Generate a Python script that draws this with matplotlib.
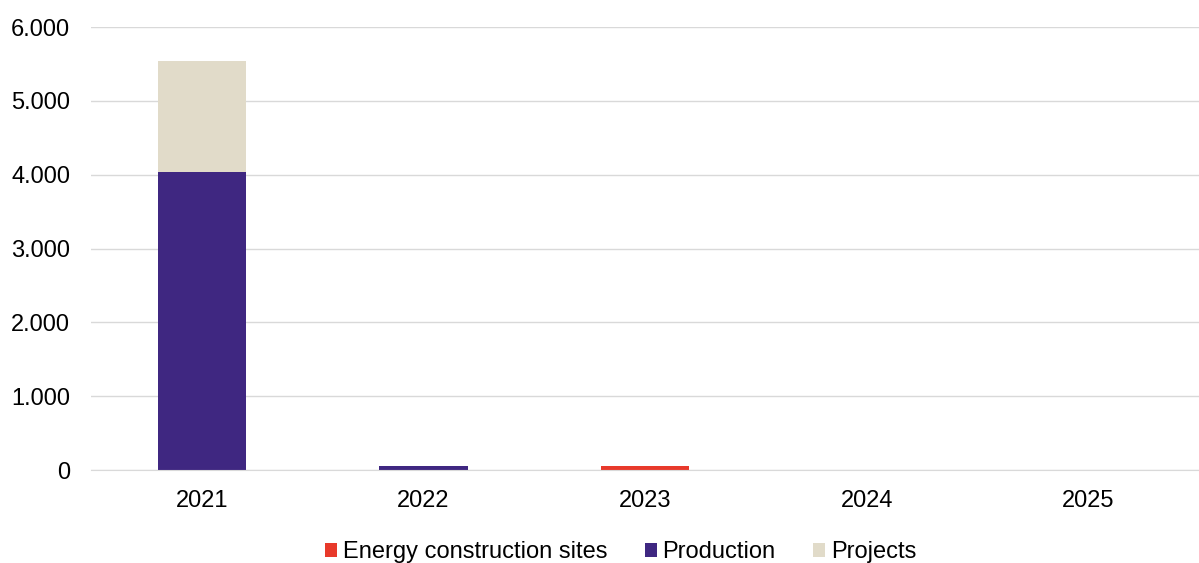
import numpy as np
import matplotlib.pyplot as plt
from matplotlib.ticker import FuncFormatter

years = ['2021', '2022', '2023', '2024', '2025']
energy_sites = [5, 0, 50, 0, 0]
production = [4030, 50, 0, 0, 0]
projects = [1505, 0, 0, 0, 0]

plt.rcParams['font.family'] = ['Liberation Sans', 'DejaVu Sans']

fig = plt.figure(figsize=(11.99, 5.63), dpi=100)
ax = fig.add_axes([0.076, 0.165, 0.924, 0.787])

x = np.arange(len(years))
w = 0.4
ax.bar(x, energy_sites, w, color='#e8392b', label='Energy construction sites')
ax.bar(x, production, w, bottom=energy_sites, color='#3f2781', label='Production')
bottom2 = np.array(energy_sites) + np.array(production)
ax.bar(x, projects, w, bottom=bottom2, color='#e1dbc9', label='Projects')

ax.set_xlim(-0.5, len(years) - 0.5)
ax.set_ylim(0, 6000)
ax.set_yticks(np.arange(0, 6001, 1000))
ax.yaxis.set_major_formatter(FuncFormatter(lambda v, p: f'{int(v):,}'.replace(',', '.')))
ax.set_xticks(x)
ax.set_xticklabels(years)
ax.tick_params(axis='both', length=0, labelsize=17, colors='black')
ax.tick_params(axis='x', pad=14)
ax.tick_params(axis='y', pad=15)

ax.grid(axis='y', color='#d9d9d9', linewidth=1)
ax.set_axisbelow(True)
for s in ['top', 'right', 'left']:
    ax.spines[s].set_visible(False)
ax.spines['bottom'].set_color('#d9d9d9')

ax.legend(loc='upper center', bbox_to_anchor=(0.478, -0.15), ncol=3, frameon=False,
          fontsize=17, handlelength=0.5, handleheight=0.5, handletextpad=0.25,
          columnspacing=1.6, borderaxespad=0, borderpad=0.2)

fig.savefig('out.png', dpi=100)
